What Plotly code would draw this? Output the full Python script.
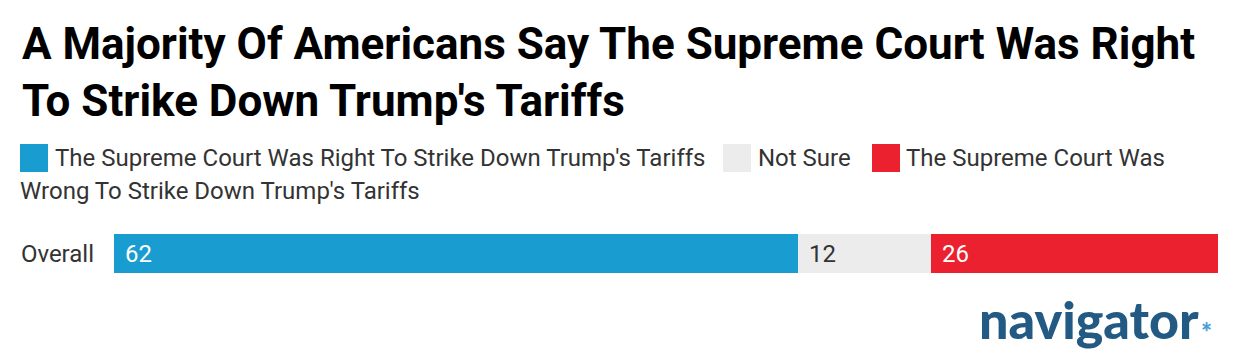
import plotly.graph_objects as go

categories = ["Overall"]
series_names = [
    "The Supreme Court Was Right To Strike Down Trump's Tariffs",
    "Not Sure",
    "The Supreme Court Was Wrong To Strike Down Trump's Tariffs",
]
right_vals = [62]
unsure_vals = [12]
wrong_vals = [26]
colors = ["#199ccf", "#ececec", "#ec2130"]
text_colors = ["#ffffff", "#333333", "#ffffff"]

W, H = 1240, 362
ML, MR, MT, MB = 114, 22, 234, 89
PW = W - ML - MR
PH = H - MT - MB

def px(x):
    return (x - ML) / PW

def py(y):
    return (H - MB - y) / PH

fig = go.Figure()
anns = []
base = [0] * len(categories)
for name, vals, c, tc in zip(series_names, [right_vals, unsure_vals, wrong_vals], colors, text_colors):
    fig.add_trace(go.Bar(
        y=categories, x=vals, orientation="h", name=name,
        marker=dict(color=c, line=dict(width=0)),
        showlegend=False, hoverinfo="skip",
    ))
    for i, (cat, v) in enumerate(zip(categories, vals)):
        anns.append(dict(text=str(v), x=base[i], y=cat, xref="x", yref="y",
                         xanchor="left", yanchor="middle", xshift=9, showarrow=False,
                         font=dict(family="Roboto", size=24, color=tc)))
        base[i] += v

font = "Roboto"
shapes = []
# Title
anns.append(dict(
    text="A Majority Of Americans Say The Supreme Court Was Right<br>To Strike Down Trump's Tariffs",
    xref="paper", yref="paper", x=px(20), y=py(72), xanchor="left", yanchor="middle",
    align="left", showarrow=False,
    font=dict(family=font, size=44, color="#000000", weight=700),
))
# Legend (manual, wraps like the original)
leg_items = [
    (20, 158, 55, colors[0], "The Supreme Court Was Right To Strike Down Trump's Tariffs"),
    (723, 158, 758, colors[1], "Not Sure"),
    (872, 158, 906, colors[2], "The Supreme Court Was"),
]
for x0, yc, tx, c, label in leg_items:
    shapes.append(dict(type="rect", xref="paper", yref="paper",
                       x0=px(x0), x1=px(x0 + 28), y0=py(yc - 14), y1=py(yc + 14),
                       fillcolor=c, line=dict(width=0)))
    anns.append(dict(text=label, xref="paper", yref="paper", x=px(tx - 2), y=py(yc),
                     xanchor="left", yanchor="middle", showarrow=False,
                     font=dict(family=font, size=24, color="#333333")))
anns.append(dict(text="Wrong To Strike Down Trump's Tariffs", xref="paper", yref="paper",
                 x=px(18), y=py(191), xanchor="left", yanchor="middle", showarrow=False,
                 font=dict(family=font, size=24, color="#333333")))
# Logo
anns.append(dict(text="navigator", xref="paper", yref="paper", x=px(1201), y=py(319),
                 xanchor="right", yanchor="middle", showarrow=False,
                 font=dict(family="Lato", size=52, color="#235a84", weight=900)))
anns.append(dict(text="*", xref="paper", yref="paper", x=px(1199), y=py(332),
                 xanchor="left", yanchor="middle", showarrow=False,
                 font=dict(family="Lato", size=26, color="#4a9fd5", weight=900)))

fig.update_layout(
    width=W, height=H, barmode="stack", bargap=0,
    margin=dict(l=ML, r=MR, t=MT, b=MB, autoexpand=False),
    paper_bgcolor="white", plot_bgcolor="white",
    xaxis=dict(range=[0, 100], visible=False, fixedrange=True),
    yaxis=dict(range=[-0.5, 0.5], showgrid=False, zeroline=False, showline=False,
               ticks="", ticklabelstandoff=19, fixedrange=True,
               tickfont=dict(family=font, size=24, color="#333333")),
    annotations=anns, shapes=shapes,
)
fig.write_html("out.html", config={"displayModeBar": False},
               post_script="document.body.style.margin='0px';")
